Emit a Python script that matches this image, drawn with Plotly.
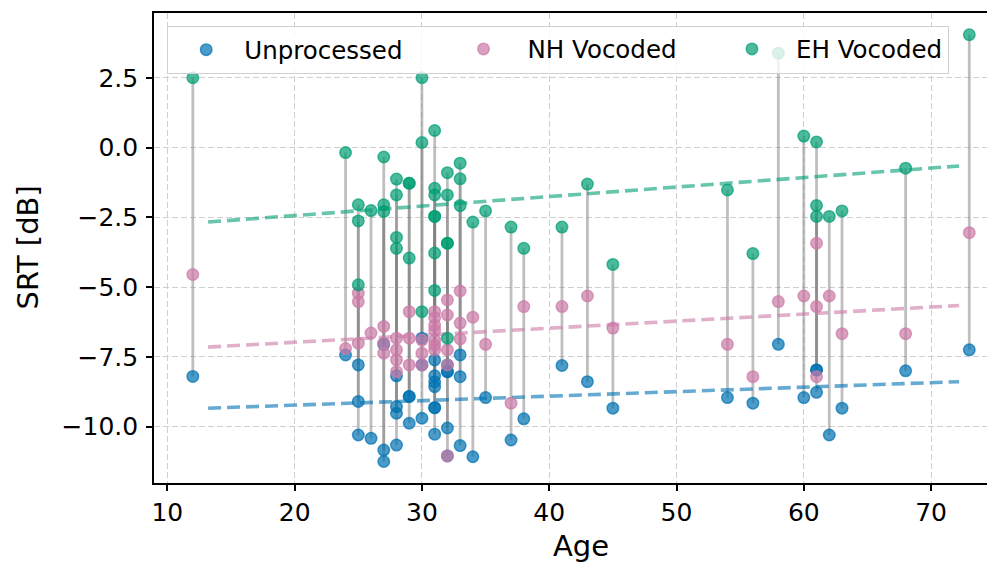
import plotly.graph_objects as go

# ---- data ----
ages = [12, 24, 25, 25, 25, 26, 27, 27, 27, 28, 28, 28, 28, 29, 29, 29,
        30, 30, 30, 31, 31, 31, 31, 31, 31, 31, 32, 32, 32, 32, 32,
        33, 33, 33, 34, 35, 37, 38, 41, 43, 45, 54, 56, 58, 60,
        61, 61, 61, 62, 63, 68, 73]
unprocessed = [-8.2, -7.43, -7.79, -9.1, -10.3, -10.42, -7.05, -10.84, -11.25,
               -8.18, -9.28, -9.52, -10.66, -8.92, -8.92, -9.88,
               -9.7, -6.83, -7.79, -7.61, -8.18, -8.4, -8.57, -9.32, -9.32, -10.27,
               -7.79, -8.03, -8.03, -10.05, -11.05,
               -7.43, -8.21, -10.68, -11.08, -8.96, -10.48, -9.72, -7.81, -8.39, -9.34,
               -8.96, -9.16, -7.05, -8.96, -7.97, -7.97, -8.77, -10.3, -9.34, -8.0, -7.25]
nh_vocoded = [-4.55, -7.2, -5.22, -5.52, -7.01, -6.65, -6.41, -7.01, -7.37,
              -6.83, -7.25, -7.61, -8.03, -5.88, -6.83, -7.79,
              -7.37, -6.9, -7.79, -5.88, -6.1, -6.37, -6.55, -6.9, -7.08, -7.25,
              -5.46, -6.0, -7.25, -7.79, -11.05,
              -5.14, -6.29, -6.86, -6.08, -7.05, -9.16, -5.7, -5.7, -5.32, -6.47,
              -7.05, -8.21, -5.52, -5.32, -3.43, -5.7, -8.21, -5.32, -6.67, -6.67, -3.05]
eh_vocoded = [2.5, -0.18, -2.05, -2.63, -4.92, -2.26, -0.34, -2.05, -2.29,
              -1.13, -1.70, -3.22, -3.61, -1.28, -1.28, -3.96,
              2.5, 0.18, -5.88, 0.61, -1.46, -1.70, -2.47, -2.47, -3.78, -5.12,
              -0.90, -1.70, -3.43, -3.43, -6.83,
              -0.56, -1.12, -2.08, -2.67, -2.27, -2.85, -3.61, -2.85, -1.31, -4.19,
              -1.52, -3.80, 3.38, 0.41, 0.20, -2.08, -2.47, -2.47, -2.27, -0.74, 4.04]

# regression lines (endpoints)
fit_x = [13.2, 72.2]
fit_unprocessed = [-9.34, -8.39]
fit_nh = [-7.15, -5.66]
fit_eh = [-2.67, -0.66]

series_names = ["Unprocessed", "NH Vocoded", "EH Vocoded"]
y_tick_vals = [-10.0, -7.5, -5.0, -2.5, 0.0, 2.5]
y_tick_text = ["\u221210.0", "\u22127.5", "\u22125.0", "\u22122.5", "0.0", "2.5"]
x_tick_vals = [10, 20, 30, 40, 50, 60, 70]

# ---- styling ----
FONT = "DejaVu Sans"
colors = {
    "Unprocessed": (0, 114, 178),
    "NH Vocoded": (204, 121, 167),
    "EH Vocoded": (0, 158, 115),
}
legend_ids = ["legend", "legend2", "legend3"]


def rgba(c, a):
    return f"rgba({c[0]},{c[1]},{c[2]},{a})"


fig = go.Figure()

# subject connecting lines (one trace each so overlaps darken)
for a, u, n, e in zip(ages, unprocessed, nh_vocoded, eh_vocoded):
    fig.add_trace(go.Scatter(
        x=[a, a, a], y=[u, n, e], mode="lines",
        line=dict(color="rgba(128,128,128,0.5)", width=2.8),
        showlegend=False, hoverinfo="skip"))

# regression lines
for name, fy in zip(series_names, [fit_unprocessed, fit_nh, fit_eh]):
    fig.add_trace(go.Scatter(
        x=fit_x, y=fy, mode="lines",
        line=dict(color=rgba(colors[name], 0.6), width=3.6, dash="13px,6px"),
        showlegend=False, hoverinfo="skip"))

# scatter points
for name, vals, lg in zip(series_names, [unprocessed, nh_vocoded, eh_vocoded], legend_ids):
    c = colors[name]
    fig.add_trace(go.Scatter(
        x=ages, y=vals, mode="markers", name=name, legend=lg,
        marker=dict(size=11.5, color=rgba(c, 0.7),
                    line=dict(color=rgba(c, 0.7), width=1.5))))

legend_font = dict(family=FONT, size=24.5, color="black")

fig.update_layout(
    width=987, height=554,
    margin=dict(l=146, r=0, t=5, b=79, pad=0, autoexpand=False),
    paper_bgcolor="white", plot_bgcolor="white",
    font=dict(family=FONT, size=25, color="black"),
    showlegend=True,
    # first legend carries the whole frame (semi-transparent white box)
    legend=dict(orientation="h", x=0.01546, y=0.9723, xanchor="left", yanchor="top",
                bgcolor="rgba(255,255,255,0.8)", bordercolor="#d0d0d0", borderwidth=1.2,
                font=legend_font, itemwidth=66,
                entrywidth=698, entrywidthmode="pixels"),
    legend2=dict(orientation="h", x=0.3395, y=0.9234, xanchor="left", yanchor="middle",
                 bgcolor="rgba(0,0,0,0)", borderwidth=0, font=legend_font, itemwidth=78),
    legend3=dict(orientation="h", x=0.6587, y=0.9234, xanchor="left", yanchor="middle",
                 bgcolor="rgba(0,0,0,0)", borderwidth=0, font=legend_font, itemwidth=78),
    xaxis=dict(
        range=[8.95, 75.02], tickvals=x_tick_vals, automargin=False,
        showline=True, linecolor="black", linewidth=1.6, mirror=True,
        ticks="outside", ticklen=6, tickwidth=1.5, tickcolor="black",
        showgrid=True, gridcolor="#cfcfcf", gridwidth=1, griddash="6px,3px",
        zeroline=False, tickfont=dict(size=25),
    ),
    yaxis=dict(
        range=[-12.02, 4.82], tickvals=y_tick_vals, ticktext=y_tick_text,
        automargin=False,
        showline=True, linecolor="black", linewidth=1.6, mirror=False,
        ticks="outside", ticklen=6, tickwidth=1.5, tickcolor="black",
        showgrid=True, gridcolor="#cfcfcf", gridwidth=1, griddash="6px,3px",
        zeroline=False, tickfont=dict(size=25), ticklabelstandoff=3,
    ),
    annotations=[
        dict(text="SRT [dB]", xref="paper", yref="paper", x=-0.1504, y=0.5,
             xanchor="center", yanchor="middle", textangle=-90,
             showarrow=False, font=dict(size=29, family=FONT)),
        dict(text="Age", xref="paper", yref="paper", x=0.5077, y=-0.134,
             xanchor="center", yanchor="middle",
             showarrow=False, font=dict(size=29, family=FONT)),
    ],
)

fig.write_html("out.html")
